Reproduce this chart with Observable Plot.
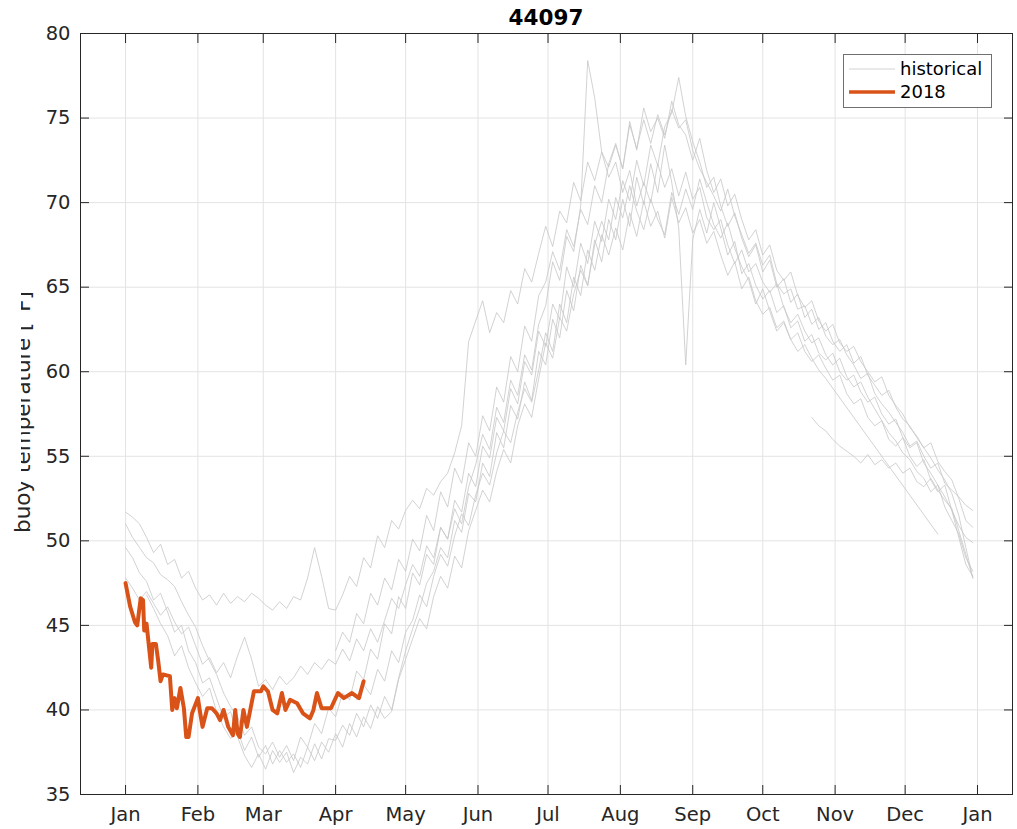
<!DOCTYPE html>
<html>
<head>
<meta charset="utf-8">
<script src="https://cdn.jsdelivr.net/npm/d3@7"></script>
<script src="https://cdn.jsdelivr.net/npm/@observablehq/plot@0.6"></script>
<style>
  html, body { margin: 0; padding: 0; background: #fff; }
  #chart { width: 1017px; height: 829px; }
</style>
</head>
<body>
<div id="chart"></div>
<script>
// ---------- tick labels ----------
const monthTicks = [0, 31, 59, 90, 120, 151, 181, 212, 243, 273, 304, 334, 365];
const monthLabels = ["Jan","Feb","Mar","Apr","May","Jun","Jul","Aug","Sep","Oct","Nov","Dec","Jan"];
const tempTicks = [35, 40, 45, 50, 55, 60, 65, 70, 75, 80];

// ---------- 2018 series (day of year, °F) ----------
const days2018 = [0,2,4,5,6.5,7.5,8,9,11,11.5,13,14,15,16,19,20,21,22,23.5,25,26,27,28.5,31,32,33,35,37,39,40.5,42,44,46,47,48,49,50.5,52,55,58,59,61,63,65,67,68.5,70.5,73.5,76,79,80.5,82,84,88,91,93.5,97,100,102];
const temps2018 = [47.5,46.1,45.2,45.0,46.6,46.5,44.7,45.1,42.5,43.9,43.9,42.9,41.7,42.1,42.0,40.0,40.7,40.1,41.3,40.1,38.4,38.4,39.8,40.7,39.8,39.0,40.1,40.1,39.8,39.4,40.0,39.0,38.5,40.0,38.6,38.4,40.0,39.0,41.1,41.1,41.4,41.1,40.0,39.8,41.0,40.0,40.6,40.4,39.8,39.5,40.0,41.0,40.1,40.1,41.0,40.7,41.0,40.7,41.7];

// ---------- historical years: one value every histStep days, starting at index histStart ----------
const histStep = 3;
const histStart = [0, 0, 0, 0, 3, 30, 33, 98];
const hist1 = [
  51.7,51.4,51.0,50.2,49.3,49.8,48.6,48.9,47.8,48.2,
  47.2,46.5,46.8,46.2,46.9,46.3,46.7,46.4,46.9,46.6,
  46.2,45.9,46.4,46.0,46.7,46.5,47.8,49.6,47.9,46.0,
  45.9,46.8,47.9,47.3,49.0,48.4,50.3,49.6,51.2,50.7,
  51.8,52.4,51.9,53.1,52.7,53.5,54.0,55.2,56.8,61.8,
  63.0,64.2,62.3,63.5,62.9,64.8,64.0,66.1,65.3,67.0,
  68.6,67.4,69.5,68.8,71.2,70.1,72.4,71.3,73.0,72.1,
  73.4,72.0,74.6,73.2,74.9,73.5,75.2,74.0,75.5,74.4,
  74.9,73.1,72.0,71.2,70.4,69.5,70.8,69.2,68.1,67.0,
  67.6,66.3,66.9,65.2,64.6,64.9,63.7,63.9,62.8,63.2,
  62.1,61.6,61.9,61.0,60.4,59.6,59.9,58.7,58.1,57.6,
  57.0,56.4,55.6,55.9,55.0,54.3,54.6,53.4,53.0,52.6,
  52.1,51.8];
const hist2 = [
  51.0,50.2,49.6,49.0,48.7,48.0,47.7,47.3,46.4,45.6,
  44.9,43.8,42.9,42.1,41.0,40.2,39.6,38.5,39.0,37.8,
  37.4,38.1,37.2,37.9,37.0,38.4,37.8,39.2,38.6,40.1,
  39.6,41.0,40.6,42.3,41.8,43.6,43.0,45.1,44.5,46.7,
  46.0,48.1,47.4,49.2,48.6,50.8,50.1,52.4,51.7,54.0,
  53.2,55.6,54.9,57.3,56.5,59.0,58.1,60.6,59.8,62.4,
  61.5,64.0,63.1,66.2,65.0,67.6,66.4,68.9,67.7,70.2,
  69.0,71.3,70.1,72.5,71.0,73.4,72.2,74.5,75.3,77.4,
  75.1,73.6,72.4,70.9,71.5,69.8,68.6,69.4,67.9,66.8,
  67.5,65.9,66.6,65.0,65.5,64.1,64.6,63.2,63.7,62.5,
  62.9,61.8,61.2,61.6,60.5,60.9,59.8,59.2,58.6,58.9,
  57.9,57.2,56.8,56.1,55.5,55.8,54.7,54.1,53.6,52.5,
  51.2,50.8];
const hist3 = [
  49.6,49.0,48.1,47.6,46.5,46.9,45.8,44.6,45.0,43.5,
  42.8,41.6,41.9,40.7,39.5,39.9,38.4,37.3,36.6,37.4,
  36.5,37.6,36.9,37.5,36.3,37.2,36.8,38.0,37.1,38.3,
  38.2,39.1,38.5,39.8,39.0,40.3,39.5,40.8,40.0,41.9,
  43.5,44.8,46.0,47.5,48.2,49.6,49.0,51.2,50.5,52.8,
  52.3,54.6,53.8,56.4,55.5,58.0,57.2,59.4,58.3,61.2,
  60.4,63.1,62.0,64.8,63.6,66.3,65.1,67.8,66.5,69.0,
  67.8,70.2,68.6,71.5,69.9,72.3,70.6,73.4,71.2,68.5,
  60.4,67.8,69.6,68.2,70.0,68.5,66.9,67.7,65.8,66.4,
  65.1,64.3,64.8,63.5,63.9,62.6,63.0,61.8,62.2,61.1,
  60.7,61.1,60.0,59.5,59.8,58.8,58.2,58.5,57.5,56.9,
  57.2,56.1,55.5,55.8,54.6,54.0,53.3,52.6,51.8,50.9,
  50.2,49.9];
const hist4 = [
  47.8,47.2,46.5,47.0,46.3,45.6,46.1,45.2,44.5,44.9,
  43.8,42.7,43.1,42.2,42.8,41.9,43.2,44.3,43.0,41.4,
  41.8,41.2,42.0,41.5,41.9,42.6,42.1,42.8,42.4,43.0,
  42.7,43.6,42.9,44.2,43.5,44.8,44.0,45.3,46.6,46.0,
  47.4,48.6,47.9,49.7,49.0,50.8,50.1,51.9,51.0,53.2,
  54.5,56.3,55.4,57.9,57.0,59.5,58.6,61.0,60.1,62.8,
  63.9,66.5,65.4,68.0,67.1,69.8,78.4,76.2,73.0,71.5,
  72.4,70.6,71.9,69.8,71.2,70.0,72.3,70.9,72.0,70.4,
  71.8,70.2,70.9,69.1,68.4,69.0,67.5,66.4,67.2,65.9,
  66.4,65.3,64.7,65.2,63.8,62.9,63.4,62.4,61.7,62.0,
  61.0,60.4,60.8,59.7,59.1,59.4,58.5,57.8,57.1,56.4,
  55.9,55.2,54.8,54.1,53.7,52.9,53.3,52.0,51.2,50.4,
  49.0,48.2];
const hist5 = [
  46.8,46.0,45.1,44.4,43.2,43.8,42.5,
  41.6,40.8,41.3,39.9,39.0,38.3,38.8,37.6,38.4,37.2,
  37.9,36.8,37.6,36.9,37.4,36.6,37.8,37.0,38.1,37.5,
  38.6,37.8,39.2,38.4,39.6,38.9,40.2,39.5,39.9,41.8,
  43.0,44.2,45.4,44.8,46.7,47.9,47.2,49.1,48.4,50.6,
  51.8,53.0,52.3,54.1,55.4,54.6,56.8,58.1,57.3,59.6,
  61.7,60.8,63.2,62.4,64.6,66.0,65.1,67.5,68.9,67.8,
  70.3,69.1,71.0,69.5,68.4,70.2,69.0,68.1,70.6,69.3,
  70.8,69.6,71.4,70.0,68.7,67.9,68.8,67.3,66.2,65.4,
  64.0,64.9,63.6,62.4,62.9,61.9,61.2,61.6,60.8,60.1,
  59.6,null,null,null,null,null,null,null,null,null,
  null,null,null,null,null,null,50.4];
const hist6 = [
  43.5,44.6,44.0,45.7,45.1,46.9,46.2,47.8,47.1,48.9,
  48.2,50.1,49.4,51.5,50.6,52.9,52.0,54.3,53.4,55.8,
  55.0,57.4,56.5,59.1,58.2,60.9,60.0,62.7,61.8,64.5,
  65.3,67.1,66.0,68.4,67.4,69.6,68.7,71.0,70.0,72.3,
  73.5,72.0,74.8,73.1,75.6,74.2,75.0,73.8,76.0,74.6,
  74.0,72.5,73.8,71.9,70.6,71.4,69.8,70.5,69.0,67.8,
  68.4,66.9,67.5,66.0,65.4,65.9,64.5,63.8,64.2,63.0,
  62.4,62.8,61.7,61.2,61.5,60.6,60.0,59.4,59.7,58.6,
  58.0,57.5,56.7,56.2,55.5,54.9,54.2,53.6,52.8,51.5,
  49.6,47.8];
const hist7 = [
  40.6,41.5,40.9,42.4,41.7,43.5,42.8,
  44.6,45.3,46.8,46.1,47.9,49.2,48.5,50.3,51.6,50.9,
  52.7,54.0,53.3,55.2,56.5,55.8,57.6,59.0,58.2,60.1,
  62.3,61.2,64.0,62.9,65.6,64.5,67.2,66.0,68.1,66.9,
  68.5,67.2,69.4,68.0,70.1,68.6,69.5,67.9,70.3,68.8,
  69.7,68.2,69.0,67.6,68.3,66.9,65.7,66.5,64.9,65.6,
  64.2,63.4,63.8,62.6,63.0,61.9,62.3,61.2,60.6,61.0,
  60.2,59.5,59.8,58.7,58.1,58.4,57.3,56.8,57.1,56.0,
  55.6,56.1,55.0,54.4,54.8,53.6,52.9,53.3,51.8,50.2,
  48.6,47.9];
const hist8 = [
  57.3,56.8,
  56.5,56.0,55.6,55.3,55.0,54.6,55.1,54.5,54.8,54.3,
  54.6,54.0,54.3,53.5,53.2,53.7,53.0,52.4,51.9,50.6,
  49.2,47.8];

// ---------- build tables ----------
const histSeries = [hist1, hist2, hist3, hist4, hist5, hist6, hist7, hist8];
const histRows = histSeries.flatMap((vals, s) =>
  vals.map((v, i) => ({s, day: (histStart[s] + i) * histStep, v})).filter(d => d.v != null)
);
const rows2018 = days2018.map((d, i) => ({day: d, v: temps2018[i]}));

const axisColor = "#262626";
const gridColor = "#e3e3e3";
const histColor = "#c6c6c6";
const color2018 = "#D95319";
const font = "DejaVu Sans";

const chart = Plot.plot({
  width: 1017,
  height: 829,
  marginLeft: 80,
  marginRight: 5,
  marginTop: 33,
  marginBottom: 35,
  style: {fontFamily: font, fontSize: "19.5px", color: axisColor, background: "#fff", overflow: "visible"},
  x: {domain: [-19.3, 380], label: null},
  y: {domain: [35, 80], label: null},
  marks: [
    Plot.gridX(monthTicks, {stroke: gridColor, strokeOpacity: 1}),
    Plot.gridY(tempTicks, {stroke: gridColor, strokeOpacity: 1}),
    Plot.line(histRows, {x: "day", y: "v", z: "s", stroke: histColor, strokeWidth: 0.8}),
    Plot.line(rows2018, {x: "day", y: "v", stroke: color2018, strokeWidth: 4, strokeLinejoin: "round", strokeLinecap: "round"}),
    Plot.frame({stroke: axisColor, strokeWidth: 1}),
    Plot.axisX({ticks: monthTicks, anchor: "bottom", tickSize: -9, tickPadding: 22, fontSize: 19.5,
      tickFormat: d => monthLabels[monthTicks.indexOf(d)], stroke: axisColor, fill: axisColor}),
    Plot.axisX({ticks: monthTicks, anchor: "top", tickSize: -9, tickFormat: () => "", stroke: axisColor}),
    Plot.axisY({ticks: tempTicks, anchor: "left", tickSize: -9, tickPadding: 19, fontSize: 19.5,
      tickFormat: d => String(d), stroke: axisColor, fill: axisColor}),
    Plot.axisY({ticks: tempTicks, anchor: "right", tickSize: -9, tickFormat: () => "", stroke: axisColor})
  ]
});

const svg = d3.select(chart);
// title
svg.append("text")
  .attr("x", 546).attr("y", 25)
  .attr("text-anchor", "middle")
  .attr("font-family", font).attr("font-weight", "bold").attr("font-size", 21.5)
  .attr("fill", "#000")
  .text("44097");
// y label
svg.append("text")
  .attr("transform", "translate(30,412) rotate(-90)")
  .attr("text-anchor", "middle")
  .attr("font-family", font).attr("font-size", 21.5)
  .attr("fill", axisColor)
  .text("buoy temperature [°F]");
// partial white cover over the label, as in the original rendering
svg.append("rect").attr("x", 0).attr("y", 270).attr("width", 21).attr("height", 214).attr("fill", "#fff");

// legend
const lg = svg.append("g");
lg.append("rect").attr("x", 843.5).attr("y", 54.5).attr("width", 148).attr("height", 53)
  .attr("fill", "#fff").attr("stroke", "#707070").attr("stroke-width", 1);
lg.append("line").attr("x1", 849).attr("x2", 895).attr("y1", 69).attr("y2", 69)
  .attr("stroke", histColor).attr("stroke-width", 0.8);
lg.append("line").attr("x1", 849).attr("x2", 895).attr("y1", 92).attr("y2", 92)
  .attr("stroke", color2018).attr("stroke-width", 3.5);
lg.append("text").attr("x", 900).attr("y", 69).attr("dy", "0.35em").attr("text-anchor", "start")
  .attr("font-family", font).attr("font-size", 18).attr("fill", "#000").text("historical");
lg.append("text").attr("x", 900).attr("y", 92).attr("dy", "0.35em").attr("text-anchor", "start")
  .attr("font-family", font).attr("font-size", 18).attr("fill", "#000").text("2018");

document.getElementById("chart").appendChild(chart);
</script>
</body>
</html>
